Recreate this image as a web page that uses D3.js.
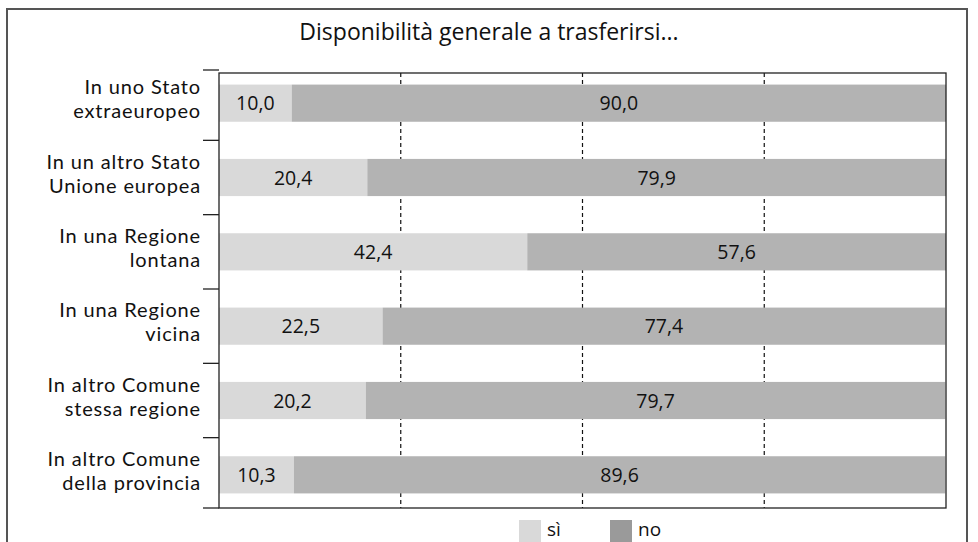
<!DOCTYPE html>
<html>
<head>
<meta charset="utf-8">
<script src="https://cdn.jsdelivr.net/npm/d3@7"></script>
<style>
  html, body { margin: 0; padding: 0; background: #fff; }
  svg { display: block; font-family: "Open Sans", "Noto Sans", sans-serif; }
  .cat { font-family: Lato, "Open Sans", sans-serif; }
</style>
</head>
<body>
<svg id="chart" width="978" height="542"></svg>
<script>
// Categories (each label split over two lines)
const categories = [
  ["In uno Stato", "extraeuropeo"],
  ["In un altro Stato", "Unione europea"],
  ["In una Regione", "lontana"],
  ["In una Regione", "vicina"],
  ["In altro Comune", "stessa regione"],
  ["In altro Comune", "della provincia"]
];
const siValues = [10.0, 20.4, 42.4, 22.5, 20.2, 10.3];
const noValues = [90.0, 79.9, 57.6, 77.4, 79.7, 89.6];
const seriesNames = ["sì", "no"];
const gridTicks = [25, 50, 75];

const svg = d3.select("#chart");
const W = 978, H = 542;
const plot = { left: 219, right: 946, top: 73, bottom: 508 };
const colSi = "#d9d9d9", colNo = "#b3b3b3", colNoLegend = "#9a9a9a";
const fmt = v => v.toFixed(1).replace(".", ",");

// Outer frame
svg.append("path")
  .attr("d", `M7,${H + 2} L7,9 L967,9 L967,${H + 2}`)
  .attr("fill", "none").attr("stroke", "#555").attr("stroke-width", 2);

// Title
svg.append("text")
  .attr("x", 489).attr("y", 40)
  .attr("text-anchor", "middle")
  .attr("font-size", 23).attr("fill", "#111")
  .text("Disponibilità generale a trasferirsi...");

const x = d3.scaleLinear().domain([0, 100]).range([plot.left, plot.right]);
const keys = categories.map((c, i) => i);
const y = d3.scaleBand().domain(keys).range([66, 512]).paddingInner(0.5).paddingOuter(0.25);
const step = y.step();

const rows = keys.map(i => ({ i, si: siValues[i], no: noValues[i] }));
const stacked = d3.stack().keys(["si", "no"])(rows);

const clipId = "plotclip";
svg.append("clipPath").attr("id", clipId)
  .append("rect")
  .attr("x", plot.left).attr("y", plot.top)
  .attr("width", plot.right - plot.left).attr("height", plot.bottom - plot.top);

// Dashed gridlines
svg.append("g").selectAll("line").data(gridTicks).join("line")
  .attr("x1", d => x(d)).attr("x2", d => x(d))
  .attr("y1", plot.top).attr("y2", plot.bottom)
  .attr("stroke", "#111").attr("stroke-width", 1.2)
  .attr("stroke-dasharray", "4,3");

// Bars
const colors = [colSi, colNo];
const g = svg.append("g").attr("clip-path", `url(#${clipId})`);
stacked.forEach((layer, k) => {
  g.selectAll(null).data(layer).join("rect")
    .attr("x", d => x(d[0]))
    .attr("width", d => x(d[1]) - x(d[0]))
    .attr("y", d => y(d.data.i))
    .attr("height", y.bandwidth())
    .attr("fill", colors[k]);
});

// Value labels
stacked.forEach((layer, k) => {
  svg.append("g").selectAll("text").data(layer).join("text")
    .attr("x", d => (x(d[0]) + Math.min(x(d[1]), plot.right)) / 2)
    .attr("y", d => y(d.data.i) + y.bandwidth() / 2)
    .attr("dy", "0.36em")
    .attr("text-anchor", "middle")
    .attr("font-size", 19.5).attr("fill", "#111")
    .text(d => fmt(d[1] - d[0]));
});

// Plot frame
svg.append("rect")
  .attr("x", plot.left).attr("y", plot.top)
  .attr("width", plot.right - plot.left).attr("height", plot.bottom - plot.top)
  .attr("fill", "none").attr("stroke", "#222").attr("stroke-width", 1.3);

// Category axis: ticks at band boundaries
const bounds = keys.map(i => y(i) - (step - y.bandwidth()) / 2).concat([y(keys.length - 1) + y.bandwidth() + (step - y.bandwidth()) / 2]);
svg.append("g").selectAll("line").data(bounds).join("line")
  .attr("x1", plot.left - 16).attr("x2", plot.left)
  .attr("y1", d => Math.max(70, Math.min(plot.bottom, d)))
  .attr("y2", d => Math.max(70, Math.min(plot.bottom, d)))
  .attr("stroke", "#222").attr("stroke-width", 1.3);

// Category labels, two lines each
const lab = svg.append("g").attr("class", "cat").selectAll("g").data(keys).join("g")
  .attr("transform", i => `translate(201,${y(i) + y.bandwidth() / 2})`);
lab.append("text").attr("y", -9)
  .attr("text-anchor", "end").attr("font-size", 20).attr("letter-spacing", 0.85).attr("fill", "#111")
  .text(i => categories[i][0]);
lab.append("text").attr("y", 15.3)
  .attr("text-anchor", "end").attr("font-size", 20).attr("letter-spacing", 0.85).attr("fill", "#111")
  .text(i => categories[i][1]);

// Legend
const legendItems = [
  { name: seriesNames[0], color: colSi, x: 519 },
  { name: seriesNames[1], color: colNoLegend, x: 610 }
];
const lg = svg.append("g").selectAll("g").data(legendItems).join("g")
  .attr("transform", d => `translate(${d.x},520)`);
lg.append("rect").attr("width", 22).attr("height", 22).attr("fill", d => d.color);
lg.append("text").attr("x", 28).attr("y", 16)
  .attr("font-size", 19).attr("fill", "#111").text(d => d.name);
</script>
</body>
</html>
